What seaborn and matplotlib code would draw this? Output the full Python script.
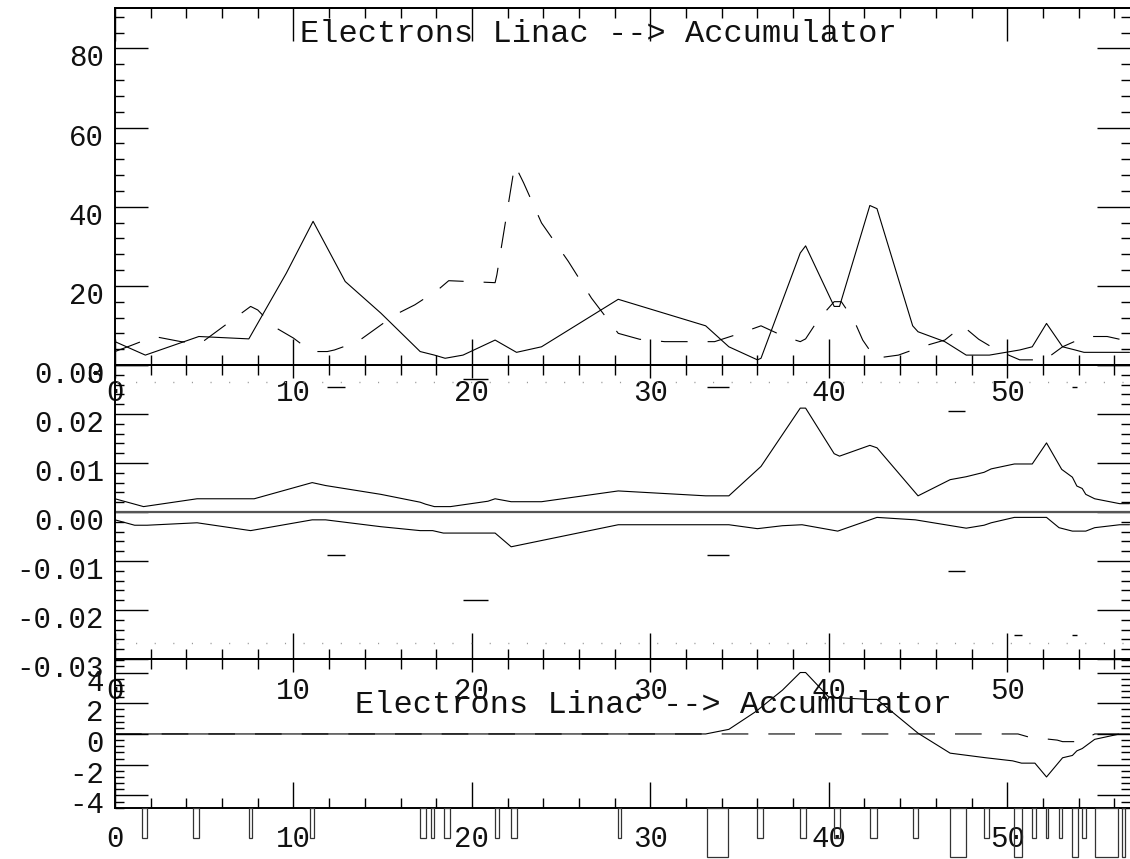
import matplotlib
matplotlib.use("Agg")
import matplotlib.pyplot as plt
from matplotlib.ticker import MultipleLocator
from matplotlib.transforms import ScaledTranslation
import seaborn as sns

# ---- data ----
title = "Electrons Linac --> Accumulator"

# panel 1 : beta functions
s_betx = [0, 1.7, 4.7, 7.5, 9.6, 11.1, 12.9, 14.9, 17.1, 17.9, 18.5, 19.5, 21.3, 22.5, 23.9,
          28.2, 33.1, 34.4, 36.0, 36.2, 38.4, 38.7, 40.3, 40.6, 42.3, 42.7, 44.7, 45.0, 46.5,
          47.7, 49.0, 50.7, 51.4, 52.2, 53.1, 53.8, 54.3, 56.85]
betx = [5.9, 2.5, 7.2, 6.6, 23.2, 36.3, 21.1, 13.1, 3.4, 2.5, 1.7, 2.5, 6.3, 3.2, 4.6,
        16.6, 9.9, 4.6, 1.3, 1.7, 28.3, 30.1, 14.8, 14.8, 40.3, 39.5, 9.9, 8.4, 5.9,
        2.5, 2.5, 3.8, 4.6, 10.5, 4.6, 3.8, 3.2, 3.2]
s_bety = [0, 1.0, 2.2, 3.7, 4.8, 7.6, 8.0, 8.9, 10.0, 11.0, 11.9, 12.3, 13.6, 15.7, 16.8,
          18.1, 18.7, 21.3, 21.4, 22.4, 22.9, 23.9, 25.4, 26.7, 28.2, 29.4, 30.8, 33.6, 34.9,
          36.2, 37.5, 38.4, 38.7, 39.4, 40.3, 40.7, 41.4, 41.9, 42.6, 43.9, 45.2, 46.5, 47.5,
          48.4, 49.4, 50.7, 52.1, 53.1, 54.4, 55.6, 56.3, 56.85]
bety = [3.4, 5.1, 7.2, 5.9, 5.5, 14.8, 13.9, 9.7, 6.8, 3.4, 3.4, 3.8, 5.9, 12.7, 15.2,
        19.0, 21.3, 20.8, 22.8, 50.6, 46.0, 35.9, 26.2, 16.9, 8.0, 6.5, 5.9, 5.9, 7.8,
        9.9, 7.2, 5.9, 6.6, 11.4, 16.0, 16.0, 11.4, 6.3, 1.7, 2.5, 4.6, 6.3, 9.9,
        6.5, 3.8, 1.3, 1.3, 4.6, 7.2, 7.2, 6.5, 6.5]

# panel 2 : envelope
s_env_up = [0, 1.6, 4.6, 7.8, 11.05, 11.8, 14.9, 17.1, 17.4, 17.9, 18.8, 20.9, 21.3, 22.2,
            23.9, 28.2, 33.1, 34.4, 36.2, 38.4, 38.7, 40.3, 40.6, 42.3, 42.7, 45.0, 46.8,
            47.7, 48.7, 49.1, 50.4, 51.4, 52.2, 53.05, 53.65, 53.9, 54.2, 54.4, 54.9, 56.3, 56.85]
env_up = [0.0027, 0.0011, 0.0027, 0.0027, 0.0060, 0.0054, 0.0036, 0.0020, 0.0016, 0.0011,
          0.0011, 0.0022, 0.0027, 0.0021, 0.0021, 0.0043, 0.0033, 0.0033, 0.0093, 0.0212,
          0.0212, 0.0119, 0.0114, 0.0136, 0.0131, 0.0033, 0.0066, 0.0072, 0.0081, 0.0088,
          0.0098, 0.0098, 0.0141, 0.0087, 0.0071, 0.0053, 0.0048, 0.0036, 0.0027, 0.0017, 0.0017]
s_env_lo = [0, 1.1, 1.8, 4.6, 7.6, 11.05, 11.8, 14.9, 17.1, 17.8, 18.4, 21.3, 22.2, 28.2,
            34.4, 36.0, 37.4, 38.5, 40.5, 42.7, 44.85, 47.7, 48.7, 49.1, 50.4, 52.2, 52.9,
            53.65, 54.4, 54.9, 56.3, 56.85]
env_lo = [-0.0016, -0.0027, -0.0027, -0.0022, -0.0038, -0.0016, -0.0016, -0.0030, -0.0038,
          -0.0038, -0.0043, -0.0043, -0.0071, -0.0026, -0.0026, -0.0034, -0.0028, -0.0026,
          -0.0039, -0.0011, -0.0016, -0.0033, -0.0027, -0.0022, -0.0011, -0.0011, -0.0032,
          -0.0039, -0.0039, -0.0032, -0.0026, -0.0026]
aperture_up, aperture_lo = 0.0265, -0.0267
mark_x0 = [11.9, 11.9, 19.5, 19.5, 33.15, 33.15, 46.7, 46.7, 50.4, 53.65, 53.65]
mark_x1 = [12.9, 12.9, 20.9, 20.9, 34.4, 34.4, 47.65, 47.65, 50.8, 53.9, 53.9]
mark_y = [0.0256, -0.0088, 0.0271, -0.018, 0.0256, -0.0088, 0.0206, -0.012, -0.0251, 0.0256, -0.0251]

# panel 3 : orbit
s_orbx = [0, 33.1, 34.4, 35.9, 37.4, 38.4, 38.7, 40.0, 42.2, 42.7, 45.0, 46.8, 48.8, 50.3,
          50.8, 51.55, 52.2, 53.1, 53.65, 53.9, 54.2, 54.9, 56.3, 56.85]
orbx = [0, 0, 0.3, 1.45, 2.85, 4.0, 4.0, 2.4, 2.25, 2.25, 0.05, -1.25, -1.55, -1.75,
        -1.9, -1.9, -2.8, -1.55, -1.4, -1.1, -0.95, -0.35, 0, 0]
s_orby = [0, 50.6, 51.2, 52.8, 53.1, 54.1, 54.9, 56.85]
orby = [0, 0, -0.2, -0.4, -0.5, -0.5, 0, 0]

# lattice elements
elem_start = [1.5, 4.35, 7.5, 10.95, 17.1, 17.7, 18.45, 21.3, 22.2, 28.2, 33.15, 36.0, 38.4,
              40.3, 42.3, 44.7, 46.8, 48.7, 50.4, 51.4, 52.15, 52.9, 53.65, 54.2, 54.9, 56.45]
elem_end = [1.8, 4.7, 7.7, 11.15, 17.4, 17.85, 18.76, 21.5, 22.5, 28.35, 34.35, 36.3, 38.7,
            40.6, 42.7, 45.0, 47.7, 49.0, 50.8, 51.6, 52.3, 53.05, 53.97, 54.4, 56.2, 56.6]
elem_kind = ["Q", "Q", "Q", "Q", "Q", "Q", "Q", "Q", "Q", "Q", "B", "Q", "Q",
             "Q", "Q", "Q", "B", "Q", "B", "Q", "Q", "Q", "B", "Q", "B", "B"]

x_major = [0, 10, 20, 30, 40, 50]
s_max = 56.85

# ---- figure ----
sns.set_style("ticks")
plt.rcParams["font.family"] = ["Liberation Mono", "DejaVu Sans Mono"]

W, H = 1130, 859
fig = plt.figure(figsize=(W / 100, H / 100), dpi=100)


def box(x0, y0, x1, y1):
    return [x0 / W, 1 - y1 / H, (x1 - x0) / W, (y1 - y0) / H]


ax1 = fig.add_axes(box(115, 8, 1129.5, 365))
ax2 = fig.add_axes(box(115, 365, 1129.5, 659))
ax3 = fig.add_axes(box(115, 659, 1129.5, 808))
axe = fig.add_axes(box(115, 808, 1129.5, 859))

FS = 21
lift = ScaledTranslation(0, 4 / 100, fig.dpi_scale_trans)


def style_panel(ax, ylim, yticks, ylabels, yminor, xpad, top_major, top_minor):
    ax.patch.set_visible(False)
    ax.set_xlim(0, s_max)
    ax.set_ylim(*ylim)
    ax.set_xticks(x_major, [str(v) for v in x_major], fontsize=FS)
    ax.xaxis.set_minor_locator(MultipleLocator(2))
    ax.set_yticks(yticks, ylabels, va="top", fontsize=FS)
    ax.yaxis.set_minor_locator(MultipleLocator(yminor))
    ax.tick_params(axis="x", which="major", direction="in", length=19, width=1, color="k",
                   pad=xpad, bottom=True, top=False, labelcolor="#111")
    ax.tick_params(axis="x", which="minor", direction="in", length=7, width=1, color="k",
                   bottom=True, top=False)
    ax.tick_params(axis="y", which="major", direction="in", length=24, width=1, color="k",
                   left=True, right=True, pad=8, labelcolor="#111")
    ax.tick_params(axis="y", which="minor", direction="in", length=6.5, width=1, color="k",
                   left=True, right=True)
    for side in ["left", "top", "bottom"]:
        ax.spines[side].set_visible(True)
        ax.spines[side].set_color("k")
        ax.spines[side].set_linewidth(1.4)
    ax.spines["right"].set_visible(False)
    ax.set_xlabel("")
    ax.set_ylabel("")
    sec = ax.secondary_xaxis("top")
    sec.set_xticks(x_major)
    sec.xaxis.set_minor_locator(MultipleLocator(2))
    sec.tick_params(axis="x", which="major", direction="in", length=top_major, width=1,
                    color="k", labeltop=False, labelbottom=False)
    sec.tick_params(axis="x", which="minor", direction="in", length=top_minor, width=1, color="k")
    sec.spines["top"].set_color("k")
    sec.spines["top"].set_linewidth(1.4)
    # y labels sit with their top on the tick, a little higher than matplotlib puts them
    for lab in ax.get_yticklabels():
        lab.set_transform(lab.get_transform() + lift)


# panel 1
sns.lineplot(x=s_betx, y=betx, ax=ax1, color="k", lw=0.8, sort=False, estimator=None)
sns.lineplot(x=s_bety, y=bety, ax=ax1, color="k", lw=0.8, sort=False, estimator=None,
             linestyle=(0, (24, 18)))
style_panel(ax1, (0, 90.2), [0, 20, 40, 60, 80], ["0", "20", "40", "60", "80"], 4,
            10, 24, 7)

# panel 2
ax2.axhline(0, color="#555", lw=1.6)
ax2.axhline(aperture_up, color="#999", lw=1.0, linestyle=(12, (0.8, 12.6)))
ax2.axhline(aperture_lo, color="#999", lw=1.0, linestyle=(12, (0.8, 12.6)))
ax2.hlines(mark_y, mark_x0, mark_x1, color="k", lw=1.0)
sns.lineplot(x=s_env_up, y=env_up, ax=ax2, color="k", lw=0.8, sort=False, estimator=None)
sns.lineplot(x=s_env_lo, y=env_lo, ax=ax2, color="k", lw=0.8, sort=False, estimator=None)
y2 = [-0.03, -0.02, -0.01, 0.0, 0.01, 0.02, 0.03]
style_panel(ax2, (-0.03, 0.03), y2, [f"{v:.2f}".replace("-0.00", "0.00") for v in y2], 0.002,
            13, 9.5, 7.5)

# panel 3
sns.lineplot(x=s_orby, y=orby, ax=ax3, color="k", lw=0.8, sort=False, estimator=None,
             linestyle=(0, (24, 18)))
sns.lineplot(x=s_orbx, y=orbx, ax=ax3, color="k", lw=0.8, sort=False, estimator=None)
style_panel(ax3, (-4.82, 4.88), [-4, -2, 0, 2, 4], ["-4", "-2", "0", "2", "4"], 0.4,
            12.5, 9, 7.5)

# lattice elements below the last panel
depth = {"Q": 30, "B": 49}
axe.set_xlim(0, s_max)
axe.set_ylim(-51, 0)
axe.axis("off")
axe.bar(elem_start, [-depth[k] for k in elem_kind],
        width=[e - s for s, e in zip(elem_start, elem_end)],
        align="edge", fill=False, edgecolor="#333", linewidth=0.9)

fig.text(300 / W, 1 - 42 / H, title, fontsize=23, ha="left", va="baseline", color="#111")
fig.text(355 / W, 1 - 713 / H, title, fontsize=23, ha="left", va="baseline", color="#111")

fig.savefig("out.png", dpi=100)
